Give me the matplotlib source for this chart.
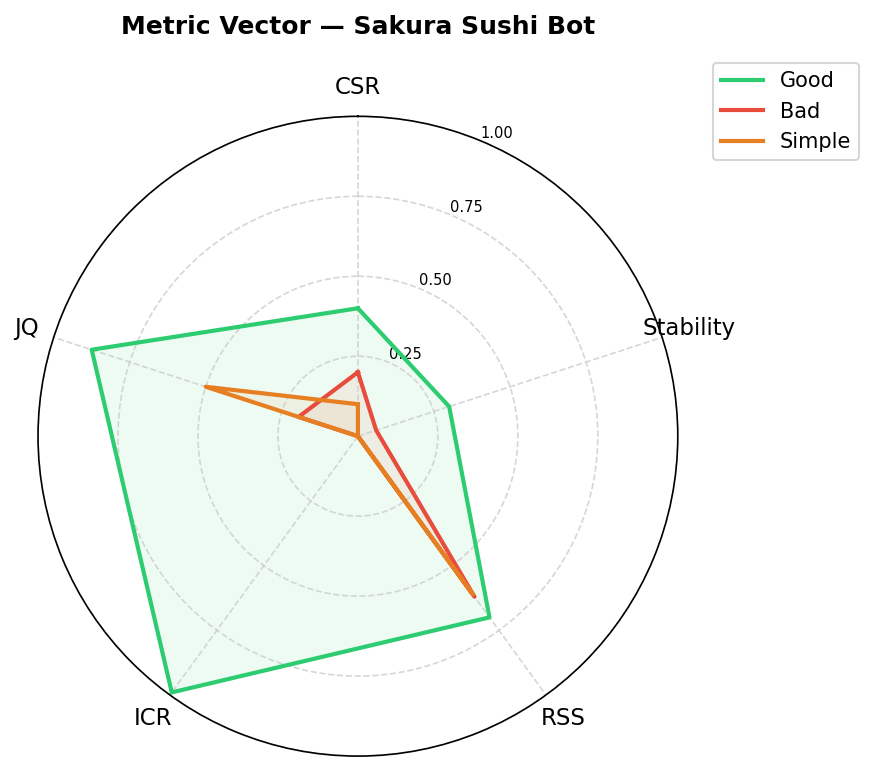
import numpy as np
import matplotlib
matplotlib.use("Agg")
import matplotlib.pyplot as plt

# Metrik (ikut arah jam dari atas)
metrics = ["CSR", "Stability", "RSS", "ICR", "JQ"]
good = [0.40, 0.30, 0.70, 0.99, 0.875]
bad = [0.20, 0.06, 0.62, 0.0, 0.195]
simple = [0.10, 0.0, 0.61, 0.0, 0.50]

series = [
    ("Good", good, "#2ecc71"),
    ("Bad", bad, "#e74c3c"),
    ("Simple", simple, "#e67e22"),
]

angles = np.linspace(0, 2 * np.pi, len(metrics), endpoint=False).tolist()
angles += angles[:1]

fig = plt.figure(figsize=(874 / 150, 770 / 150), dpi=150)
ax = fig.add_axes([0.0435, 0.018, 0.732, 0.831], projection="polar")
ax.set_theta_offset(np.pi / 2)
ax.set_theta_direction(-1)

for name, vals, col in series:
    v = vals + vals[:1]
    ax.plot(angles, v, color=col, linewidth=2, label=name)
    ax.fill(angles, v, color=col, alpha=0.08)

ax.set_xticks(angles[:-1])
ax.set_xticklabels(metrics, fontsize=11)
ax.tick_params(axis="x", pad=3.2)
ax.set_ylim(0, 1)
ax.set_yticks([0.25, 0.5, 0.75, 1.0])
ax.set_yticklabels(["0.25", "0.50", "0.75", "1.00"], fontsize=7)
ax.grid(True, linestyle="--", color="#cccccc", linewidth=0.8, alpha=0.8)

ax.set_title("Metric Vector \u2014 Sakura Sushi Bot", fontsize=12, fontweight="bold", pad=39.5)
ax.legend(loc="upper right", bbox_to_anchor=(1.3, 1.1), fontsize=10)

fig.savefig("out.png", dpi=150)
